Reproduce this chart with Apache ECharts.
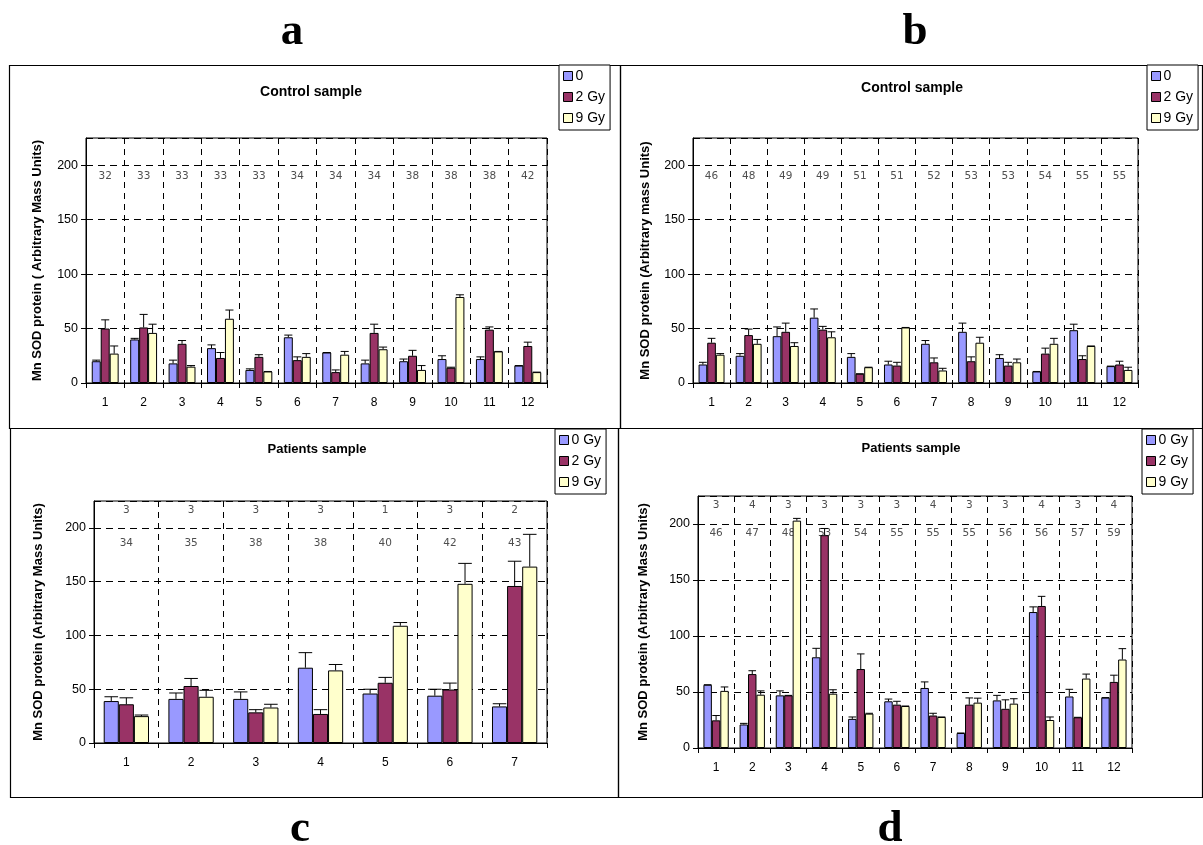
<!DOCTYPE html>
<html>
<head>
<meta charset="utf-8">
<script src="https://cdn.jsdelivr.net/npm/echarts@6/dist/echarts.min.js"></script>
<style>
html,body{margin:0;padding:0;background:#fff;}
#c{width:1203px;height:845px;}
</style>
</head>
<body>
<div id="c"></div>
<script>
// ---------- DATA ----------
const catsA = ['1','2','3','4','5','6','7','8','9','10','11','12'];
const agesA = [32,33,33,33,33,34,34,34,38,38,38,42];
const a0 = [20,40,18,32,12,42,28,18,20,22,22,16];
const a0Err = [1,1,3,3,1,2,0,3,2,3,2,0];
const a2 = [50,51,36,23,24,21,10,46,25,14,49,34];
const a2Err = [8,12,3,5,2,3,2,8,5,0.5,2.5,3.5];
const a9 = [27,46,15,59,10.6,24,26,31,12,79,29,10];
const a9Err = [7,8,1,8,0,3,3,2,4,2,0,0];

const catsB = ['1','2','3','4','5','6','7','8','9','10','11','12'];
const agesB = [46,48,49,49,51,51,52,53,53,54,55,55];
const b0 = [17,25,43,60,24,17,36,47,23,10.6,48.5,15.5];
const b0Err = [2,2,8.5,8,3,3,3,8,3,0,5.5,0];
const b2 = [37,44,47,49,8.5,16,19,20,16,27,22,17];
const b2Err = [4,5.5,8,3,0,3,4,4,3,5,3,3];
const b9 = [26,36,34,42,14.5,51,11.5,37,19,36,34,12];
const b9Err = [1,4,3,5,0,0,2,5,3,5,0,2.5];

const catsC = ['1','2','3','4','5','6','7'];
const countsC = [3,3,3,3,1,3,2];
const agesC = [34,35,38,38,40,42,43];
const c0 = [39,41,41,70,46,44,34];
const c0Err = [4,5.5,6.5,14,4,6,2.5];
const c2 = [36,53,28.5,27,56,49.7,146];
const c2Err = [6,7,2.5,4,5,6,23];
const c9 = [25,43,33,67.5,109,148,164];
const c9Err = [1,6,3,5.5,3,19,30];

const catsD = ['1','2','3','4','5','6','7','8','9','10','11','12'];
const countsD = [3,4,3,3,3,3,4,3,3,4,3,4];
const agesD = [46,47,48,53,54,55,55,55,56,56,57,59];
const d0 = [56.5,21,47,81,26,41.7,53.6,13.4,42.5,121.4,46,45];
const d0Err = [0,1,4,8,1.7,2,5.4,0,4.5,4.6,6.4,0];
const d2 = [24.7,66,47,190,70.5,38.7,29,38.7,35,126.8,27.4,59];
const d2Err = [4.3,3,0,6,13.5,3,2,6,8,8.6,0,6];
const d9 = [51,47.6,203,48.5,30.7,37.5,27.7,40.5,39.6,25,62,79];
const d9Err = [3.5,3.4,2,3.5,0.3,0,0,4,4.4,2.7,4,9.7];

const namesAB = ['0','2 Gy','9 Gy'];
const namesCD = ['0 Gy','2 Gy','9 Gy'];
const yTitleA = 'Mn SOD protein ( Arbitrary Mass Units)';
const yTitleB = 'Mn SOD protein (Arbitrary mass Units)';
const yTitleC = 'Mn SOD protein (Arbitrary Mass Units)';
const yTitleD = 'Mn SOD protein (Arbitrary Mass Units)';

// ---------- STYLE ----------
const COLORS = ['#9999FF','#993366','#FFFFCC'];
const GAP = 0.30;
const FONT = 'Liberation Sans, Arial, sans-serif';

const panels = [
  {grid:{left:86,top:138,width:461,height:245}, cats:catsA, names:namesAB, vals:[a0,a2,a9], errs:[a0Err,a2Err,a9Err],
   rows:[{v:agesA,y:190}], yTitle:yTitleA, nameGap:42,
   legend:{left:559,top:65}},
  {grid:{left:693,top:138,width:445,height:245}, cats:catsB, names:namesAB, vals:[b0,b2,b9], errs:[b0Err,b2Err,b9Err],
   rows:[{v:agesB,y:190}], yTitle:yTitleB, nameGap:41,
   legend:{left:1147,top:65}},
  {grid:{left:94,top:501,width:453,height:242}, cats:catsC, names:namesCD, vals:[c0,c2,c9], errs:[c0Err,c2Err,c9Err],
   rows:[{v:countsC,y:216.5},{v:agesC,y:186}], yTitle:yTitleC, nameGap:49,
   legend:{left:555,top:429}},
  {grid:{left:698,top:496,width:434,height:252}, cats:catsD, names:namesCD, vals:[d0,d2,d9], errs:[d0Err,d2Err,d9Err],
   rows:[{v:countsD,y:217},{v:agesD,y:192}], yTitle:yTitleD, nameGap:48,
   legend:{left:1142,top:429}}
];

const grid=[], xAxis=[], yAxis=[], series=[], legend=[];
panels.forEach((p,pi)=>{
  grid.push(Object.assign({show:true,borderColor:'#000',borderWidth:1,backgroundColor:'transparent',containLabel:false}, p.grid));
  xAxis.push({type:'category',gridIndex:pi,data:p.cats,
    axisLine:{lineStyle:{color:'#000',width:1}},
    axisTick:{show:true,length:5,lineStyle:{color:'#000'}},
    axisLabel:{color:'#000',fontSize:12,fontFamily:FONT,margin:14},
    splitLine:{show:true,lineStyle:{color:'#000',type:[6,5],width:1}}});
  yAxis.push({type:'value',gridIndex:pi,min:0,max:225,interval:50,
    name:p.yTitle,nameLocation:'middle',nameGap:p.nameGap,nameRotate:90,
    nameTextStyle:{fontSize:13,fontWeight:'bold',fontFamily:FONT,color:'#000'},
    axisLine:{show:true,lineStyle:{color:'#000',width:1}},
    axisTick:{show:true,length:5,lineStyle:{color:'#000'}},
    axisLabel:{color:'#000',fontSize:12.5,fontFamily:FONT,margin:8,showMaxLabel:false},
    splitLine:{show:true,lineStyle:{color:'#000',type:[7,5],width:1}}});
  // label rows (ages / counts)
  p.rows.forEach((r)=>{
    series.push({type:'scatter',xAxisIndex:pi,yAxisIndex:pi,z:1,silent:true,symbolSize:1,
      itemStyle:{color:'rgba(0,0,0,0)'},
      data:p.cats.map((c,i)=>[i,r.y]),
      label:{show:true,position:'inside',color:'#222',fontSize:10.5,fontFamily:'DejaVu Sans, sans-serif',
        formatter:(prm)=>String(r.v[prm.dataIndex])}});
  });
  p.names.forEach((nm,k)=>{
    series.push({type:'bar',name:nm,xAxisIndex:pi,yAxisIndex:pi,z:2,
      barGap:'0%',barCategoryGap:(GAP*100)+'%',
      itemStyle:{color:COLORS[k],borderColor:'#000',borderWidth:1},
      data:p.vals[k]});
  });
  p.names.forEach((nm,k)=>{
    const vals=p.vals[k], errs=p.errs[k];
    series.push({type:'custom',xAxisIndex:pi,yAxisIndex:pi,z:3,silent:true,clip:false,
      data:vals.map((v,i)=>[i,v,errs[i]]),
      encode:{x:0,y:1},
      renderItem:(params,api)=>{
        const x=api.value(0), v=api.value(1), e=api.value(2);
        const base=api.coord([x,v]); const top=api.coord([x,v+e]);
        const band=api.size([1,0])[0];
        const bw=band*(1-GAP)/3;
        const cx=base[0]+(k-1)*bw;
        const cap=bw*0.9;
        return {type:'group',children:[
          {type:'line',shape:{x1:cx,y1:base[1],x2:cx,y2:top[1]},style:{stroke:'#000',lineWidth:1}},
          {type:'line',shape:{x1:cx-cap/2,y1:top[1],x2:cx+cap/2,y2:top[1]},style:{stroke:'#000',lineWidth:1}}
        ]};
      }});
  });
  legend.push({data:p.names,left:p.legend.left,top:p.legend.top,orient:'vertical',
    backgroundColor:'#fff',borderColor:'#000',borderWidth:1,padding:[4,5,5,4],
    itemWidth:9,itemHeight:9,itemGap:7,icon:'rect',selectedMode:false,
    itemStyle:{borderColor:'#000',borderWidth:1},
    textStyle:{fontSize:14,lineHeight:14,fontFamily:FONT,color:'#000',padding:[0,0,0,-2]}});
});

const LETTER='bold 45px Liberation Serif, serif';
const graphic=[
  {type:'rect',shape:{x:9.5,y:65.5,width:611,height:363},style:{fill:'none',stroke:'#000',lineWidth:1.2},z:-1},
  {type:'rect',shape:{x:620.5,y:65.5,width:582,height:363},style:{fill:'none',stroke:'#000',lineWidth:1.2},z:-1},
  {type:'rect',shape:{x:10.5,y:428.5,width:608,height:369},style:{fill:'none',stroke:'#000',lineWidth:1.2},z:-1},
  {type:'rect',shape:{x:618.5,y:428.5,width:584,height:369},style:{fill:'none',stroke:'#000',lineWidth:1.2},z:-1},
  {type:'text',x:311,y:92,style:{text:'Control sample',font:'bold 14px '+FONT,fill:'#000',textAlign:'center',textVerticalAlign:'middle'}},
  {type:'text',x:912,y:88,style:{text:'Control sample',font:'bold 14px '+FONT,fill:'#000',textAlign:'center',textVerticalAlign:'middle'}},
  {type:'text',x:317,y:449,style:{text:'Patients sample',font:'bold 13px '+FONT,fill:'#000',textAlign:'center',textVerticalAlign:'middle'}},
  {type:'text',x:911,y:448,style:{text:'Patients sample',font:'bold 13px '+FONT,fill:'#000',textAlign:'center',textVerticalAlign:'middle'}},
  {type:'text',x:292,y:32,style:{text:'a',font:LETTER,fill:'#000',textAlign:'center',textVerticalAlign:'middle'}},
  {type:'text',x:915,y:32,style:{text:'b',font:LETTER,fill:'#000',textAlign:'center',textVerticalAlign:'middle'}},
  {type:'text',x:300,y:829,style:{text:'c',font:LETTER,fill:'#000',textAlign:'center',textVerticalAlign:'middle'}},
  {type:'text',x:890,y:829,style:{text:'d',font:LETTER,fill:'#000',textAlign:'center',textVerticalAlign:'middle'}}
];

const chart=echarts.init(document.getElementById('c'),null,{renderer:'canvas'});
chart.setOption({backgroundColor:'#fff',animation:false,grid,xAxis,yAxis,series,legend,graphic});
</script>
</body>
</html>
